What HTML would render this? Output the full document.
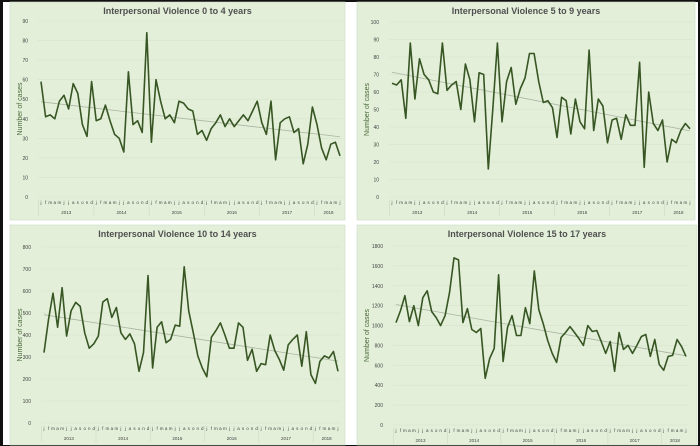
<!DOCTYPE html>
<html><head><meta charset="utf-8"><style>
body{margin:0;background:#fff;width:700px;height:446px;overflow:hidden;font-family:"Liberation Sans",sans-serif}
svg{position:absolute;left:0;top:0}
</style></head><body>
<svg id="s" width="700" height="446"></svg>
<script>
const months=["j","f","m","a","m","j","j","a","s","o","n","d"];
const years=["2013","2014","2015","2016","2017","2018"];
const v0to4=[59,41,42,40,49,52,45,58,53,37,31,59,39,40,47,39,32,30,23,64,37,39,33,84,28,60,49,40,42,38,49,48,45,44,32,34,29,35,38,42,36,40,36,39,42,39,44,49,38,32,49,19,38,40,41,33,35,17,27,46,37,25,19,27,28,21];
const v5to9=[65,64,67,45,88,56,79,70,67,60,59,88,61,64,66,50,76,67,43,71,70,16,51,88,43,66,74,53,62,68,82,82,66,54,55,51,34,57,55,36,56,43,39,84,38,56,52,31,44,45,33,47,41,41,77,17,60,42,38,44,20,33,31,38,42,39];
const v10to14=[320,470,590,435,615,395,510,548,530,410,340,360,395,550,565,480,525,410,380,405,360,235,320,670,250,435,460,365,380,445,440,710,510,410,305,250,210,390,420,455,400,340,340,455,435,285,335,235,270,265,400,330,290,240,355,380,400,258,415,220,180,280,305,295,325,235];
const v15to17=[1030,1150,1300,1040,1200,1000,1280,1350,1140,1080,1000,1100,1330,1680,1660,1030,1170,960,930,970,470,670,770,1510,640,980,1100,900,900,1180,1020,1550,1160,1020,850,720,630,880,930,990,930,870,800,1000,940,950,840,720,840,540,930,760,800,720,800,890,910,690,860,610,550,690,700,860,790,690];
const ticks0to4=[0,10,20,30,40,50,60,70,80,90];
const ticks5to9=[0,10,20,30,40,50,60,70,80,90,100];
const ticks10to14=[0,100,200,300,400,500,600,700,800];
const ticks15to17=[0,200,400,600,800,1000,1200,1400,1600,1800];
const NS="http://www.w3.org/2000/svg";
const svg=document.getElementById('s');
function mk(tag,attrs,parent,txt){const e=document.createElementNS(NS,tag);for(const k in attrs)e.setAttribute(k,attrs[k]);if(txt!==undefined)e.textContent=txt;(parent||svg).appendChild(e);return e;}
mk('rect',{x:0,y:0,width:700,height:2,fill:'#111'});
mk('rect',{x:0,y:0,width:3,height:446,fill:'#111'});
mk('rect',{x:0,y:445,width:700,height:1,fill:'#111'});
mk('rect',{x:698,y:0,width:2,height:446,fill:'#111'});
function chart(name,title,data,ticks,px,py,pw,ph,x0,x1,y0px,ytopPx){
  const g=mk('g',{});
  
  
  const bg=mk('rect',{x:px,y:py,width:pw,height:ph,fill:'#e3efd9',stroke:'#cfdcc5','stroke-width':0.6},g);
  
  
  const t=mk('text',{x:px+pw/2,y:py+12,'text-anchor':'middle','font-size':9,'font-weight':'bold',fill:'#505050'},g,title);
  
  
  const yt=mk('text',{transform:`translate(${px+12},${(y0px+ytopPx)/2}) rotate(-90)`,'text-anchor':'middle','font-size':7,fill:'#4a6a3a'},g,'Number of cases');
  
  
  const maxT=ticks[ticks.length-1];
  const ys=v=>y0px-(v/maxT)*(y0px-ytopPx);
  const n=data.length;
  const xs=i=>x0+i*(x1-x0)/(n-1);
  ticks.forEach(tv=>{
    const gl=mk('line',{x1:x0-3,x2:x1+3,y1:ys(tv),y2:ys(tv),stroke:'#d6e4cc','stroke-width':0.6},g);
    
    
    const tl=mk('text',{x:x0-13,y:ys(tv)+2,'text-anchor':'end','font-size':5,fill:'#444'},g,String(tv));
    
    
  });
  const step=(x1-x0)/(n-1);
  const ly=y0px+7;
  for(let i=0;i<n;i++){
    const ml=mk('text',{x:xs(i),y:ly,'text-anchor':'middle','font-size':4.5,fill:'#444'},g,months[i%12]);
    
    
  }
  for(let yi=0;yi<years.length;yi++){
    const a=yi*12,b=Math.min(n-1,yi*12+11);
    const sep=mk('line',{x1:xs(a)-step/2,x2:xs(a)-step/2,y1:y0px+3,y2:y0px+19,stroke:'#c8d4be','stroke-width':0.5},g);
    
    
    const yl=mk('text',{x:(xs(a)+xs(b))/2,y:y0px+17,'text-anchor':'middle','font-size':4.5,fill:'#444'},g,years[yi]);
    
    
  }
  let sx=0,sy=0,sxx=0,sxy=0;
  data.forEach((v,i)=>{sx+=i;sy+=v;sxx+=i*i;sxy+=i*v;});
  const m=(n*sxy-sx*sy)/(n*sxx-sx*sx),c=(sy-m*sx)/n;
  const tr=mk('line',{x1:xs(0),y1:ys(c),x2:xs(n-1),y2:ys(c+m*(n-1)),stroke:'#a9b5a2','stroke-width':0.8},g);
  
  
  const pts=data.map((v,i)=>xs(i).toFixed(1)+','+ys(v).toFixed(1)).join(' ');
  const ln=mk('polyline',{points:pts,fill:'none',stroke:'#375623','stroke-width':1.6,'stroke-linejoin':'round'},g);
  
  
}
chart('chart-0-to-4','Interpersonal Violence 0 to 4 years',v0to4,ticks0to4,10,2,335,218,41,340,197,21);
chart('chart-5-to-9','Interpersonal Violence 5 to 9 years',v5to9,ticks5to9,357,2,338,218,392,690,197,22);
chart('chart-10-to-14','Interpersonal Violence 10 to 14 years',v10to14,ticks10to14,10,225,335,220,44,338,423,247);
chart('chart-15-to-17','Interpersonal Violence 15 to 17 years',v15to17,ticks15to17,357,225,340,220,396,686,425,246);
</script>
</body></html>
